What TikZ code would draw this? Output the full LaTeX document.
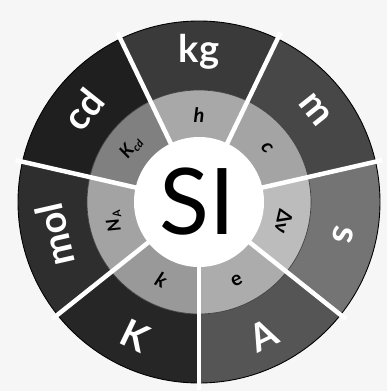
\documentclass[tikz,border=0pt]{standalone}
\usepackage{fontspec}
\setmainfont{Lato}
\definecolor{bgc}{HTML}{F6F6F6}
\definecolor{oA}{HTML}{555555}
\definecolor{os}{HTML}{747474}
\definecolor{om}{HTML}{474747}
\definecolor{okg}{HTML}{3A3A3A}
\definecolor{ocd}{HTML}{1F1F1F}
\definecolor{omol}{HTML}{2E2E2E}
\definecolor{oK}{HTML}{262626}
\definecolor{ie}{HTML}{ACACAC}
\definecolor{idnu}{HTML}{BCBCBC}
\definecolor{ic}{HTML}{A4A4A4}
\definecolor{ih}{HTML}{A8A8A8}
\definecolor{ikcd}{HTML}{808080}
\definecolor{ina}{HTML}{A3A3A3}
\definecolor{ik}{HTML}{999999}
\newcommand\segm[4]{%
  \fill[#3] (#1:112pt) -- (#1:181pt) arc[start angle=#1,end angle=#2,radius=181pt] -- (#2:112pt) arc[start angle=#2,end angle=#1,radius=112pt] -- cycle;
  \fill[#4] (#1:64pt) -- (#1:112pt) arc[start angle=#1,end angle=#2,radius=112pt] -- (#2:64pt) arc[start angle=#2,end angle=#1,radius=64pt] -- cycle;}
\newcommand\lowsub[1]{\raisebox{-0.35ex}{\fontsize{11}{11}\selectfont #1}}
\begin{document}
\begin{tikzpicture}[
  unit/.style={text=white,font=\fontsize{38}{38}\selectfont\bfseries,inner sep=0pt},
  const/.style={text=black,font=\fontsize{20}{20}\selectfont\bfseries,inner sep=0pt},
  sepline/.style={draw=white,line width=4.5pt},
]
\useasboundingbox[fill=bgc] (-199pt,-189pt) rectangle (188pt,202pt);
\segm{-90}{-38.571}{oA}{ie}
\segm{-38.571}{12.857}{os}{idnu}
\segm{12.857}{64.286}{om}{ic}
\segm{64.286}{115.714}{okg}{ih}
\segm{115.714}{167.143}{ocd}{ikcd}
\segm{167.143}{218.571}{omol}{ina}
\segm{218.571}{270}{oK}{ik}
\draw[black,line width=0.9pt] (0,0) circle[radius=181pt];
\draw[black!75,line width=0.7pt] (0,0) circle[radius=112pt];
\foreach \a in {-90,-38.571,12.857,64.286,115.714,167.143,218.571}
  \draw[sepline] (\a:60pt) -- (\a:188pt);
\fill[white] (0,0) circle[radius=65pt];
\node[inner sep=0pt,font=\fontsize{92}{92}\selectfont] (si) at (-2pt,0pt) {SI};
\node[unit] (kg) at (90:150pt) {kg};
\node[unit,rotate=-51.43] (m) at (38.57:148pt) {m};
\node[unit,rotate=-102.86] (s) at (-12.86:148pt) {s};
\node[unit,rotate=25.71] (A) at (-64.29:148pt) {A};
\node[unit,rotate=-25.71] (K) at (244.29:148pt) {K};
\node[unit,rotate=102.86] (mol) at (192.86:148pt) {mol};
\node[unit,rotate=51.43] (cd) at (141.43:148pt) {cd};
\node[const,font=\fontsize{20}{20}\selectfont\bfseries\itshape] (h) at (90:87pt) {h};
\node[const,font=\fontsize{20}{20}\selectfont\bfseries\itshape,rotate=-51.43] (c) at (38.57:87pt) {c};
\node[const,rotate=-102.86] (dnu) at (-12.86:87pt) {Δν};
\node[const,rotate=25.71] (e) at (-64.29:87pt) {e};
\node[const,font=\fontsize{20}{20}\selectfont\bfseries\itshape,rotate=-25.71] (k) at (244.29:87pt) {k};
\node[const,font=\fontsize{18}{18}\selectfont\bfseries\itshape,rotate=102.86] (na) at (192.86:87pt) {N\lowsub{A}};
\node[const,font=\fontsize{18}{18}\selectfont\bfseries\itshape,rotate=51.43] (kcd) at (141.43:87pt) {K\lowsub{cd}};
\end{tikzpicture}
\end{document}
